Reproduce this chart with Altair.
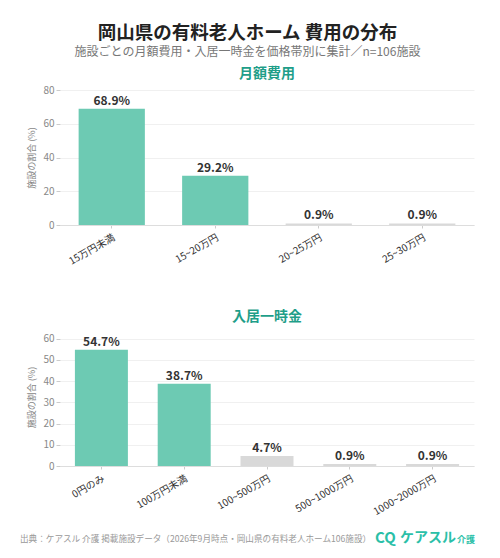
import altair as alt
import pandas as pd

monthly_cats = ["15万円未満", "15~20万円", "20~25万円", "25~30万円"]
monthly_vals = [68.9, 29.2, 0.9, 0.9]
lump_cats = ["0円のみ", "100万円未満", "100~500万円", "500~1000万円", "1000~2000万円"]
lump_vals = [54.7, 38.7, 4.7, 0.9, 0.9]

FONT = "Noto Sans CJK JP"
TEAL = "#6DCAB3"
GRAY = "#D9D9D9"

def panel(cats, vals, title, ymax, step, h):
    df = pd.DataFrame({"cat": cats, "val": vals,
                       "lab": [f"{v:.1f}%" for v in vals]})
    x = alt.X("cat:N", sort=cats, title=None,
              scale=alt.Scale(paddingInner=0.36, paddingOuter=0.18),
              axis=alt.Axis(labelAngle=-30, labelAlign="right", labelBaseline="top",
                            labelFontSize=10, labelColor="#333", labelPadding=4,
                            tickColor="#ccc", tickSize=3, domainColor="#ddd",
                            labelFont=FONT))
    y = alt.Y("val:Q", title="施設の割合 (%)",
              scale=alt.Scale(domain=[0, ymax], nice=False),
              axis=alt.Axis(values=list(range(0, ymax + 1, step)), labelFontSize=10,
                            labelOverlap=False,
                            labelColor="#888", titleColor="#888", titleFontSize=9,
                            titleFontWeight="normal", tickColor="#ccc", tickSize=4,
                            domain=False, gridColor="#f0f0f0", labelFont=FONT,
                            titleFont=FONT, titlePadding=6))
    base = alt.Chart(df).encode(x=x, y=y)
    bars = base.mark_bar().encode(
        color=alt.condition(alt.datum.val > 10, alt.value(TEAL), alt.value(GRAY)))
    text = base.mark_text(dy=-8, fontSize=12, fontWeight="bold", color="#333",
                          font=FONT).encode(text="lab:N")
    return (bars + text).properties(
        width=414, height=h,
        title=alt.TitleParams(title, fontSize=14, fontWeight="bold", color="#1F9E89",
                              font=FONT, anchor="middle", offset=4))

c1 = panel(monthly_cats, monthly_vals, "月額費用", 80, 20, 135)
c2 = panel(lump_cats, lump_vals, "入居一時金", 65, 10, 138)

footer = alt.Chart(pd.DataFrame({"a": [0]})).mark_text(
    align="left", fontSize=8.6, color="#999", font=FONT).encode(
    x=alt.value(-40), y=alt.value(17),
    text=alt.value("出典：ケアスル 介護 掲載施設データ（2026年9月時点・岡山県の有料老人ホーム106施設）"))
logo_icon = alt.Chart(pd.DataFrame({"a": [0]})).mark_text(
    align="left", fontSize=15, fontWeight="bold", color="#2BBFA8", font=FONT).encode(
    x=alt.value(315), y=alt.value(16), text=alt.value("CQ"))
logo = alt.Chart(pd.DataFrame({"a": [0]})).mark_text(
    align="left", fontSize=14, fontWeight="bold", color="#2BBFA8", font=FONT).encode(
    x=alt.value(340), y=alt.value(16), text=alt.value("ケアスル"))
logo2 = alt.Chart(pd.DataFrame({"a": [0]})).mark_text(
    align="left", fontSize=9, fontWeight="bold", color="#2BBFA8", font=FONT).encode(
    x=alt.value(397), y=alt.value(18), text=alt.value("介護"))
foot = (footer + logo_icon + logo + logo2).properties(width=414, height=1)

charts = alt.vconcat(c1, c2, spacing=43)
chart = alt.vconcat(charts, foot, spacing=5).properties(
    title=alt.TitleParams("岡山県の有料老人ホーム 費用の分布",
                          subtitle="施設ごとの月額費用・入居一時金を価格帯別に集計／n=106施設",
                          fontSize=18.5, fontWeight="bold", color="#222", font=FONT,
                          subtitleFont=FONT, subtitleFontSize=12, subtitleColor="#777",
                          subtitlePadding=5, anchor="middle", offset=9),
    background="white", padding={"left": 12, "top": 15, "right": 6, "bottom": 0}
).configure_view(stroke=None)

chart.save("out.html", embed_options={"renderer": "svg", "actions": False})
